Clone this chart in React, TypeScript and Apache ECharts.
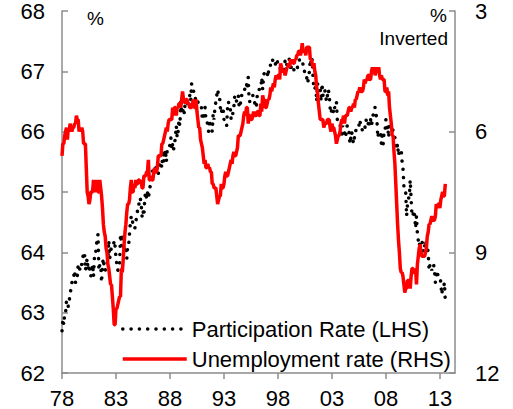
import React, { useEffect, useRef } from "react";
import * as echarts from "echarts";

// Monthly data, January 1978 to July 2013
const startYear = 1978;

// Unemployment rate, % (right axis, inverted)
const unemployment: number[] = [
  6.6, 6.3, 6.3, 6.1, 6.0, 5.9, 6.2, 5.9, 6.0, 5.8, 5.9, 6.0, // 1978
  5.9, 5.9, 5.8, 5.8, 5.6, 5.7, 5.7, 6.0, 5.9, 6.0, 5.9, 6.0, // 1979
  6.3, 6.3, 6.3, 6.9, 7.5, 7.6, 7.8, 7.7, 7.5, 7.5, 7.5, 7.2, // 1980
  7.5, 7.4, 7.4, 7.2, 7.5, 7.5, 7.2, 7.4, 7.6, 7.9, 8.3, 8.5, // 1981
  8.6, 8.9, 9.0, 9.3, 9.4, 9.6, 9.8, 9.8, 10.1, 10.4, 10.8, 10.8, // 1982
  10.4, 10.4, 10.3, 10.2, 10.1, 10.1, 9.4, 9.5, 9.2, 8.8, 8.5, 8.3, // 1983
  8.0, 7.8, 7.8, 7.7, 7.4, 7.2, 7.5, 7.5, 7.3, 7.4, 7.2, 7.3, // 1984
  7.3, 7.2, 7.2, 7.3, 7.2, 7.4, 7.4, 7.1, 7.1, 7.1, 7.0, 7.0, // 1985
  6.7, 7.2, 7.2, 7.1, 7.2, 7.2, 7.0, 6.9, 7.0, 7.0, 6.9, 6.6, // 1986
  6.6, 6.6, 6.6, 6.3, 6.3, 6.2, 6.1, 6.0, 5.9, 6.0, 5.8, 5.7, // 1987
  5.7, 5.7, 5.7, 5.4, 5.6, 5.4, 5.4, 5.6, 5.4, 5.4, 5.3, 5.3, // 1988
  5.4, 5.2, 5.0, 5.2, 5.2, 5.3, 5.2, 5.2, 5.3, 5.3, 5.4, 5.4, // 1989
  5.4, 5.3, 5.2, 5.4, 5.4, 5.2, 5.5, 5.7, 5.9, 5.9, 6.2, 6.3, // 1990
  6.4, 6.6, 6.8, 6.7, 6.9, 6.9, 6.8, 6.9, 6.9, 7.0, 7.0, 7.3, // 1991
  7.3, 7.4, 7.4, 7.4, 7.6, 7.8, 7.7, 7.6, 7.6, 7.3, 7.4, 7.4, // 1992
  7.3, 7.1, 7.0, 7.1, 7.1, 7.0, 6.9, 6.8, 6.7, 6.8, 6.6, 6.5, // 1993
  6.6, 6.6, 6.5, 6.4, 6.1, 6.1, 6.1, 6.0, 5.9, 5.8, 5.6, 5.5, // 1994
  5.6, 5.4, 5.4, 5.8, 5.6, 5.6, 5.7, 5.7, 5.6, 5.5, 5.6, 5.6, // 1995
  5.6, 5.5, 5.5, 5.6, 5.6, 5.3, 5.5, 5.1, 5.2, 5.2, 5.4, 5.4, // 1996
  5.3, 5.2, 5.2, 5.1, 4.9, 5.0, 4.9, 4.8, 4.9, 4.7, 4.6, 4.7, // 1997
  4.6, 4.6, 4.7, 4.3, 4.4, 4.5, 4.5, 4.5, 4.6, 4.5, 4.4, 4.4, // 1998
  4.3, 4.4, 4.2, 4.3, 4.2, 4.3, 4.3, 4.2, 4.2, 4.1, 4.1, 4.0, // 1999
  4.0, 4.1, 4.0, 3.8, 4.0, 4.0, 4.0, 4.1, 3.9, 3.9, 3.9, 3.9, // 2000
  4.2, 4.2, 4.3, 4.4, 4.3, 4.5, 4.6, 4.9, 5.0, 5.3, 5.5, 5.7, // 2001
  5.7, 5.7, 5.7, 5.9, 5.8, 5.8, 5.8, 5.7, 5.7, 5.7, 5.9, 6.0, // 2002
  5.8, 5.9, 5.9, 6.0, 6.1, 6.3, 6.2, 6.1, 6.1, 6.0, 5.8, 5.7, // 2003
  5.7, 5.6, 5.8, 5.6, 5.6, 5.6, 5.5, 5.4, 5.4, 5.5, 5.4, 5.4, // 2004
  5.3, 5.4, 5.2, 5.2, 5.1, 5.0, 5.0, 4.9, 5.0, 5.0, 5.0, 4.9, // 2005
  4.7, 4.8, 4.7, 4.7, 4.6, 4.6, 4.7, 4.7, 4.5, 4.4, 4.5, 4.4, // 2006
  4.6, 4.5, 4.4, 4.5, 4.4, 4.6, 4.7, 4.6, 4.7, 4.7, 4.7, 5.0, // 2007
  5.0, 4.9, 5.1, 5.0, 5.4, 5.6, 5.8, 6.1, 6.1, 6.5, 6.8, 7.3, // 2008
  7.8, 8.3, 8.7, 9.0, 9.4, 9.5, 9.5, 9.6, 9.8, 10.0, 9.9, 9.9, // 2009
  9.7, 9.7, 9.7, 9.9, 9.6, 9.4, 9.4, 9.5, 9.5, 9.4, 9.8, 9.3, // 2010
  9.1, 8.9, 8.8, 9.0, 9.1, 9.1, 9.1, 9.1, 9.0, 8.9, 8.6, 8.5, // 2011
  8.3, 8.3, 8.2, 8.1, 8.2, 8.2, 8.2, 8.1, 7.8, 7.9, 7.8, 7.8, // 2012
  7.9, 7.7, 7.6, 7.5, 7.6, 7.6, 7.3, // 2013
];

// Participation rate, % (left axis)
const participation: number[] = [
  62.7, 62.9, 62.8, 63.0, 63.0, 63.2, 63.2, 63.1, 63.2, 63.3, 63.4, 63.5, // 1978
  63.6, 63.6, 63.7, 63.5, 63.5, 63.6, 63.8, 63.8, 63.7, 63.8, 63.8, 63.9, // 1979
  64.0, 64.0, 63.7, 63.8, 63.9, 63.7, 63.8, 63.7, 63.6, 63.7, 63.8, 63.6, // 1980
  63.9, 63.9, 64.1, 64.2, 64.3, 63.7, 63.8, 63.8, 63.5, 63.8, 63.9, 63.7, // 1981
  63.7, 63.8, 63.8, 63.9, 64.2, 63.9, 64.0, 64.1, 64.1, 64.1, 64.2, 64.1, // 1982
  63.9, 63.8, 63.7, 63.8, 63.8, 64.3, 64.1, 64.3, 64.3, 64.0, 64.1, 64.1, // 1983
  63.9, 64.1, 64.1, 64.3, 64.5, 64.6, 64.6, 64.4, 64.4, 64.4, 64.5, 64.6, // 1984
  64.7, 64.7, 64.9, 64.9, 64.8, 64.6, 64.7, 64.6, 64.9, 65.0, 64.9, 65.0, // 1985
  64.9, 65.0, 65.1, 65.1, 65.2, 65.4, 65.4, 65.3, 65.4, 65.4, 65.4, 65.3, // 1986
  65.4, 65.5, 65.5, 65.4, 65.7, 65.5, 65.6, 65.7, 65.5, 65.7, 65.7, 65.7, // 1987
  65.8, 65.9, 65.7, 65.8, 65.7, 65.8, 65.9, 66.1, 65.9, 66.0, 66.2, 66.1, // 1988
  66.5, 66.3, 66.3, 66.4, 66.3, 66.5, 66.5, 66.5, 66.4, 66.5, 66.6, 66.5, // 1989
  66.8, 66.7, 66.7, 66.6, 66.6, 66.4, 66.5, 66.5, 66.4, 66.4, 66.4, 66.4, // 1990
  66.2, 66.2, 66.3, 66.4, 66.2, 66.2, 66.1, 66.0, 66.2, 66.1, 66.1, 66.0, // 1991
  66.3, 66.2, 66.4, 66.5, 66.6, 66.7, 66.6, 66.6, 66.4, 66.3, 66.4, 66.4, // 1992
  66.2, 66.2, 66.2, 66.1, 66.4, 66.5, 66.4, 66.4, 66.2, 66.3, 66.3, 66.4, // 1993
  66.6, 66.6, 66.5, 66.5, 66.6, 66.4, 66.4, 66.6, 66.6, 66.7, 66.7, 66.7, // 1994
  66.8, 66.8, 66.7, 66.9, 66.5, 66.5, 66.6, 66.6, 66.6, 66.6, 66.5, 66.4, // 1995
  66.4, 66.6, 66.6, 66.7, 66.7, 66.7, 66.9, 66.7, 66.9, 67.0, 67.0, 67.0, // 1996
  67.0, 66.9, 67.1, 67.1, 67.1, 67.1, 67.2, 67.1, 67.1, 67.1, 67.2, 67.2, // 1997
  67.1, 67.1, 67.1, 67.0, 67.0, 67.0, 67.0, 67.0, 67.2, 67.2, 67.1, 67.2, // 1998
  67.2, 67.2, 67.0, 67.1, 67.1, 67.1, 67.0, 67.0, 67.0, 67.0, 67.1, 67.1, // 1999
  67.2, 67.2, 67.2, 67.2, 67.1, 67.1, 66.9, 66.9, 66.9, 66.8, 66.9, 67.0, // 2000
  67.2, 67.1, 67.2, 66.9, 66.7, 66.7, 66.8, 66.5, 66.8, 66.7, 66.7, 66.7, // 2001
  66.5, 66.8, 66.6, 66.7, 66.7, 66.6, 66.5, 66.6, 66.7, 66.6, 66.4, 66.3, // 2002
  66.4, 66.4, 66.3, 66.4, 66.4, 66.5, 66.2, 66.1, 66.1, 66.1, 66.1, 65.9, // 2003
  66.1, 66.0, 66.0, 65.9, 66.0, 66.1, 66.1, 66.0, 65.8, 65.9, 66.0, 65.9, // 2004
  65.8, 65.9, 65.9, 66.1, 66.1, 66.1, 66.1, 66.2, 66.1, 66.1, 66.0, 66.0, // 2005
  66.0, 66.1, 66.2, 66.1, 66.1, 66.2, 66.1, 66.2, 66.1, 66.2, 66.3, 66.4, // 2006
  66.4, 66.3, 66.2, 65.9, 66.0, 66.0, 66.0, 65.8, 66.0, 65.8, 66.0, 66.0, // 2007
  66.2, 66.0, 66.1, 65.9, 66.1, 66.1, 66.1, 66.1, 66.0, 66.0, 65.9, 65.8, // 2008
  65.7, 65.8, 65.6, 65.7, 65.7, 65.7, 65.5, 65.4, 65.1, 65.0, 65.0, 64.6, // 2009
  64.8, 64.9, 64.9, 65.2, 64.9, 64.6, 64.6, 64.7, 64.6, 64.4, 64.6, 64.3, // 2010
  64.2, 64.1, 64.2, 64.2, 64.2, 64.1, 64.0, 64.1, 64.2, 64.1, 64.1, 64.0, // 2011
  63.7, 63.8, 63.8, 63.7, 63.8, 63.8, 63.7, 63.5, 63.6, 63.7, 63.6, 63.6, // 2012
  63.6, 63.5, 63.3, 63.4, 63.4, 63.5, 63.2, // 2013
];

const xTickYears = [1978, 1983, 1988, 1993, 1998, 2003, 2008, 2013];
const leftTicks = { min: 62, max: 68, interval: 1 };
const rightTicks = { min: 3, max: 12, interval: 3 };
const seriesNames = ["Participation Rate (LHS)", "Unemployment rate (RHS)"];

const FONT = "'Liberation Sans', Arial, sans-serif";
const AXIS_GREY = "#8c8c8c";

const toPairs = (arr: number[]) => arr.map((v, i) => [startYear + i / 12, v]);

export default function App() {
  const ref = useRef<HTMLDivElement>(null);

  useEffect(() => {
    if (!ref.current) return;
    const chart = echarts.init(ref.current, undefined, { renderer: "svg" });
    const labelStyle = { color: "#000", fontSize: 22, fontFamily: FONT };
    chart.setOption({
      animation: false,
      backgroundColor: "#fff",
      grid: { left: 62, right: 58, top: 5, bottom: 33 },
      xAxis: {
        type: "value",
        min: 1978,
        max: 2014.4,
        axisLine: { show: true, lineStyle: { color: AXIS_GREY, width: 1.5 } },
        axisTick: {
          show: true,
          customValues: xTickYears,
          length: 6,
          lineStyle: { color: AXIS_GREY, width: 1.5 },
        },
        axisLabel: {
          ...labelStyle,
          customValues: xTickYears,
          margin: 14,
          formatter: (v: number) => String(Math.round(v) % 100).padStart(2, "0"),
        },
        splitLine: { show: false },
      },
      yAxis: [
        {
          type: "value",
          position: "left",
          ...leftTicks,
          axisLine: { show: true, lineStyle: { color: AXIS_GREY, width: 1.5 } },
          axisTick: { show: true, inside: true, length: 6, lineStyle: { color: AXIS_GREY, width: 1.5 } },
          axisLabel: { ...labelStyle, margin: 17 },
          splitLine: { show: false },
        },
        {
          type: "value",
          position: "right",
          inverse: true,
          ...rightTicks,
          axisLine: { show: true, lineStyle: { color: AXIS_GREY, width: 1.5 } },
          axisTick: { show: true, inside: true, length: 6, lineStyle: { color: AXIS_GREY, width: 1.5 } },
          axisLabel: { ...labelStyle, margin: 20 },
          splitLine: { show: false },
        },
      ],
      legend: {
        orient: "vertical",
        left: 116,
        top: 313,
        itemWidth: 64,
        itemHeight: 14,
        itemGap: 8,
        data: seriesNames,
        itemStyle: { opacity: 0, borderWidth: 0 },
        lineStyle: { width: 3.5 },
        textStyle: { ...labelStyle },
      },
      graphic: [
        { type: "text", x: 87, y: 9, style: { text: "%", fontSize: 19, fontFamily: FONT, fill: "#000" } },
        { type: "text", x: 447, y: 6, style: { text: "%", fontSize: 19, fontFamily: FONT, fill: "#000", textAlign: "right" } },
        { type: "text", x: 448, y: 29, style: { text: "Inverted", fontSize: 19, fontFamily: FONT, fill: "#000", textAlign: "right" } },
      ],
      series: [
        {
          name: seriesNames[0],
          type: "line",
          yAxisIndex: 0,
          data: toPairs(participation),
          symbol: "none",
          lineStyle: { color: "#000", width: 3.5, type: [0.1, 8.2], cap: "round" },
          itemStyle: { color: "#000" },
          z: 2,
        },
        {
          name: seriesNames[1],
          type: "line",
          yAxisIndex: 1,
          data: toPairs(unemployment),
          symbol: "none",
          lineStyle: { color: "#ff0000", width: 3.5 },
          itemStyle: { color: "#ff0000" },
          z: 3,
        },
      ],
    });
    return () => chart.dispose();
  }, []);

  return (
    <div
      ref={ref}
      style={{ position: "fixed", left: 0, top: 0, width: 513, height: 409 }}
    />
  );
}
